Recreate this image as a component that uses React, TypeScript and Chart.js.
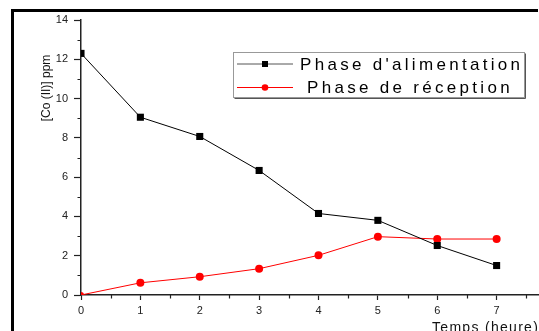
import { useEffect, useRef } from "react";
import { Chart, registerables } from "chart.js";

Chart.register(...registerables);

// Time in hours and cobalt concentration in each phase
const hours = [0, 1, 2, 3, 4, 5, 6, 7];
const alimentation = [12.3, 9.05, 8.07, 6.34, 4.15, 3.8, 2.52, 1.5];
const reception = [0, 0.62, 0.93, 1.34, 2.02, 2.97, 2.85, 2.85];

const seriesNames = ["Phase d'alimentation", "Phase de réception"];
const yTitle = "[Co (II)] ppm";
const xTitle = "Temps (heure)";

const CANVAS_W = 600;
const CANVAS_H = 360;
const FONT = "'Liberation Sans', Arial, sans-serif";
const AXIS_COLOR = "#222";

// Extra drawing: page frame, minor ticks, axis titles and the boxed legend
const decorations = {
  id: "decorations",
  afterDraw(chart: any) {
    const ctx = chart.ctx as CanvasRenderingContext2D;
    const xs = chart.scales.x;
    const ys = chart.scales.y;
    const area = chart.chartArea;
    ctx.save();

    // frame
    ctx.strokeStyle = "#000";
    ctx.lineWidth = 3;
    ctx.beginPath();
    ctx.moveTo(12.5, CANVAS_H);
    ctx.lineTo(12.5, 10.5);
    ctx.lineTo(538, 10.5);
    ctx.stroke();

    // minor ticks
    ctx.strokeStyle = AXIS_COLOR;
    ctx.lineWidth = 1.2;
    ctx.beginPath();
    for (let v = 1; v < 14; v += 2) {
      const py = Math.round(ys.getPixelForValue(v)) + 0.5;
      ctx.moveTo(area.left, py);
      ctx.lineTo(area.left - 3.5, py);
    }
    for (let v = 0.5; v < 8; v += 1) {
      const px = Math.round(xs.getPixelForValue(v)) + 0.5;
      ctx.moveTo(px, area.bottom);
      ctx.lineTo(px, area.bottom + 3.5);
    }
    ctx.stroke();

    // axis titles
    ctx.fillStyle = "#111";
    ctx.font = `12px ${FONT}`;
    ctx.textAlign = "center";
    ctx.textBaseline = "middle";
    ctx.save();
    ctx.translate(47, 88);
    ctx.rotate(-Math.PI / 2);
    ctx.fillText(yTitle, 0, 0);
    ctx.restore();

    ctx.font = `14px ${FONT}`;
    (ctx as any).letterSpacing = "1.3px";
    ctx.textAlign = "left";
    ctx.fillText(xTitle, 432, 328);

    // legend box
    const bx = 233.5, by = 52.5, bw = 291, bh = 45;
    ctx.fillStyle = "#fff";
    ctx.fillRect(bx, by, bw, bh);
    ctx.strokeStyle = "#999";
    ctx.lineWidth = 1;
    ctx.strokeRect(bx, by, bw, bh);
    ctx.strokeStyle = "#555";
    ctx.beginPath();
    ctx.moveTo(bx + bw + 1, by + 1);
    ctx.lineTo(bx + bw + 1, by + bh + 1);
    ctx.lineTo(bx + 1, by + bh + 1);
    ctx.stroke();

    const rows = [
      { y: 64, color: "#555", marker: "#000", square: true, tx: 300 },
      { y: 87.5, color: "#f00", marker: "#f00", square: false, tx: 307 },
    ];
    rows.forEach((r, i) => {
      ctx.strokeStyle = r.color;
      ctx.lineWidth = 1;
      ctx.beginPath();
      ctx.moveTo(237, r.y);
      ctx.lineTo(293, r.y);
      ctx.stroke();
      ctx.fillStyle = r.marker;
      if (r.square) {
        ctx.fillRect(262, r.y - 3, 6, 6);
      } else {
        ctx.beginPath();
        ctx.arc(265, r.y, 3.3, 0, Math.PI * 2);
        ctx.fill();
      }
      ctx.fillStyle = "#000";
      ctx.font = `17px ${FONT}`;
      (ctx as any).letterSpacing = "3.3px";
      ctx.textAlign = "left";
      ctx.textBaseline = "middle";
      ctx.fillText(seriesNames[i], r.tx, r.y + 1);
    });
    (ctx as any).letterSpacing = "0px";
    ctx.restore();
  },
};

export default function App() {
  const ref = useRef<HTMLCanvasElement | null>(null);

  useEffect(() => {
    if (!ref.current) return;
    const chart = new Chart(ref.current, {
      type: "line",
      data: {
        datasets: [
          {
            label: seriesNames[0],
            data: hours.map((h, i) => ({ x: h, y: alimentation[i] })),
            borderColor: "#000",
            backgroundColor: "#000",
            borderWidth: 1,
            pointStyle: "rect",
            pointRadius: 5,
            pointBorderWidth: 0,
            tension: 0,
          },
          {
            label: seriesNames[1],
            data: hours.map((h, i) => ({ x: h, y: reception[i] })),
            borderColor: "#f00",
            backgroundColor: "#f00",
            borderWidth: 1,
            pointStyle: "circle",
            pointRadius: [3, 4, 4, 4, 4, 4, 4, 4],
            pointBorderWidth: 0,
            tension: 0,
          },
        ],
      },
      options: {
        animation: false,
        responsive: false,
        events: [],
        layout: { padding: { left: 0, top: 20, right: 44, bottom: 0 } },
        plugins: { legend: { display: false }, tooltip: { enabled: false } },
        scales: {
          x: {
            type: "linear",
            min: 0,
            max: 8,
            afterFit: (s: any) => {
              s.height = CANVAS_H - 295;
            },
            ticks: {
              stepSize: 1,
              padding: 4,
              color: "#222",
              font: { family: FONT, size: 11 },
              maxRotation: 0,
              callback: (v: any) => (v <= 7 ? String(v) : ""),
            },
            grid: {
              drawOnChartArea: false,
              drawTicks: true,
              tickLength: 5,
              tickWidth: 1.2,
              tickColor: AXIS_COLOR,
            },
            border: { display: true, color: AXIS_COLOR, width: 1.5 },
          },
          y: {
            min: 0,
            max: 14,
            afterFit: (s: any) => {
              s.width = 81;
            },
            ticks: {
              stepSize: 2,
              padding: 6,
              color: "#222",
              font: { family: FONT, size: 11 },
            },
            grid: {
              drawOnChartArea: false,
              drawTicks: true,
              tickLength: 7,
              tickWidth: 1.2,
              tickColor: AXIS_COLOR,
            },
            border: { display: true, color: AXIS_COLOR, width: 1.5 },
          },
        },
      },
      plugins: [decorations],
    });
    return () => chart.destroy();
  }, []);

  return (
    <div
      style={{
        position: "fixed",
        left: 0,
        top: 0,
        width: 539,
        height: 331,
        overflow: "hidden",
        background: "#fff",
      }}
    >
      <canvas
        ref={ref}
        width={CANVAS_W}
        height={CANVAS_H}
        style={{ width: CANVAS_W, height: CANVAS_H, display: "block" }}
      />
    </div>
  );
}
